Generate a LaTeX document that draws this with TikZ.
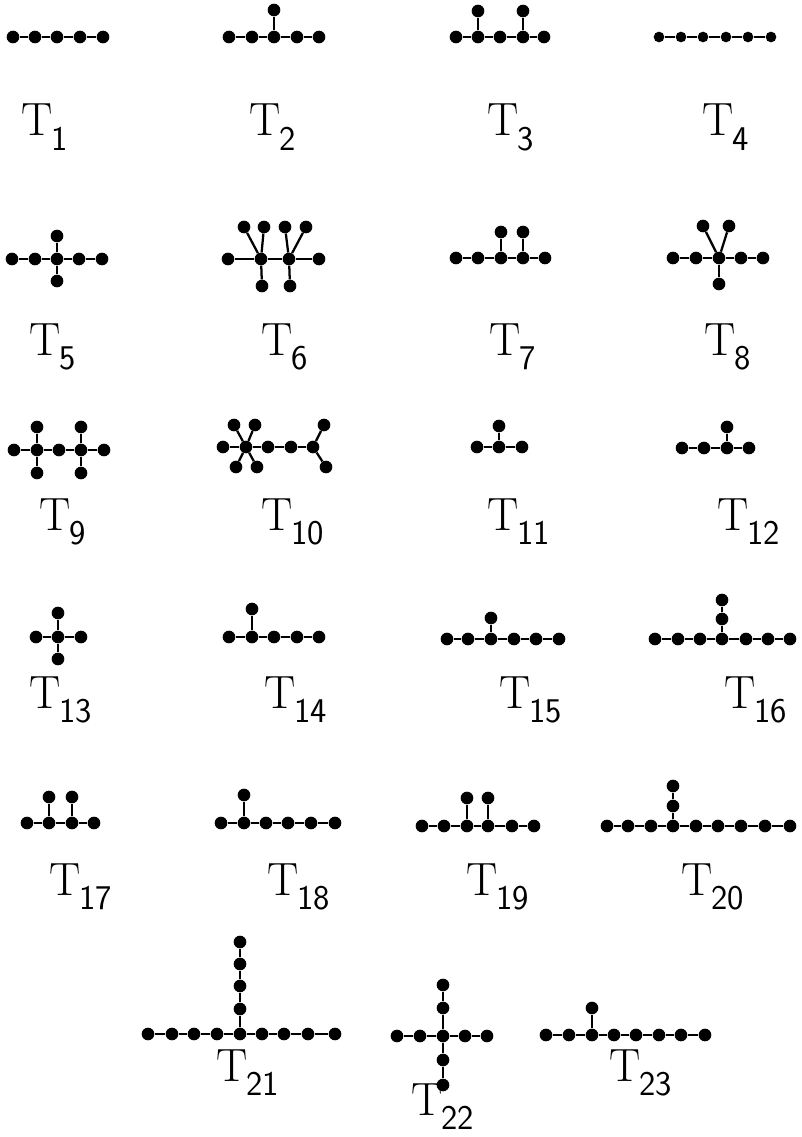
\documentclass[tikz,border=0pt]{standalone}
\usepackage{amsmath}
\usetikzlibrary{positioning}

% a straight spine of dots, joined one after another
\newcommand{\spine}[4][dot]{%
  \foreach \x [count=\k, remember=\k as \p (initially 0)] in {#4} {%
    \node[#1] (#2-\k) at (\x,#3) {};
    \ifnum\k>1 \draw[edge] (#2-\p) -- (#2-\k); \fi
  }}
% one extra dot hung on a parent dot
\newcommand{\leaf}[3]{\node[dot] (#2) at (#3) {}; \draw[edge] (#1) -- (#2);}
\newcommand{\tlab}[1]{T\kern-1pt\lower11pt\hbox{\fontsize{26}{28}\selectfont\sffamily #1}}

\begin{document}
\begin{tikzpicture}[x=0.75pt, y=-0.75pt,
    dot/.style={circle, fill=black, inner sep=0pt, minimum size=9.5pt},
    smalldot/.style={dot, minimum size=8pt},
    edge/.style={line width=1.7pt},
    lab/.style={anchor=base west, inner sep=0pt, font=\fontsize{35}{38}\selectfont}
]
    \useasboundingbox (0,0) rectangle (801,1137);

    % row 1
    \spine{t1}{37}{13,35,57,80,103}
    \spine{t2}{37}{229,252,274,297,319}
    \leaf{t2-3}{t2-a}{274,10}
    \spine{t3}{37}{456,478,500,523,544}
    \leaf{t3-2}{t3-a}{478,11}
    \leaf{t3-4}{t3-b}{523,11}
    \spine[smalldot]{t4}{37}{659,681,703,726,748,771}

    % row 2
    \spine{t5}{259}{12,35,57,79,102}
    \leaf{t5-3}{t5-a}{57,236}
    \leaf{t5-3}{t5-b}{57,281}
    \spine{t6}{259}{228,261,289,319}
    \leaf{t6-2}{t6-a}{244,227}
    \leaf{t6-2}{t6-b}{264,227}
    \leaf{t6-3}{t6-c}{285,227}
    \leaf{t6-3}{t6-d}{306,227}
    \leaf{t6-2}{t6-e}{262,286}
    \leaf{t6-3}{t6-f}{290,286}
    \spine{t7}{258}{456,478,501,523,545}
    \leaf{t7-3}{t7-a}{501,232}
    \leaf{t7-4}{t7-b}{523,232}
    \spine{t8}{258}{673,696,719,741,763}
    \leaf{t8-3}{t8-a}{703,226}
    \leaf{t8-3}{t8-b}{729,226}
    \leaf{t8-3}{t8-c}{719,284}

    % row 3
    \spine{t9}{450}{14,37,59,81,104}
    \leaf{t9-2}{t9-a}{37,427}
    \leaf{t9-2}{t9-b}{37,473}
    \leaf{t9-4}{t9-c}{81,427}
    \leaf{t9-4}{t9-d}{81,473}
    \spine{t10}{447}{223,246,268,291,313}
    \leaf{t10-2}{t10-a}{234,425}
    \leaf{t10-2}{t10-b}{255,425}
    \leaf{t10-2}{t10-c}{236,467}
    \leaf{t10-2}{t10-d}{257,467}
    \leaf{t10-5}{t10-e}{324,425}
    \leaf{t10-5}{t10-f}{326,467}
    \spine{t11}{447}{477,499,522}
    \leaf{t11-2}{t11-a}{499,426}
    \spine{t12}{448}{682,704,727,749}
    \leaf{t12-3}{t12-a}{727,427}

    % row 4
    \spine{t13}{637}{36,58,81}
    \leaf{t13-2}{t13-a}{58,613}
    \leaf{t13-2}{t13-b}{58,659}
    \spine{t14}{637}{229,252,274,297,319}
    \leaf{t14-2}{t14-a}{252,609}
    \spine{t15}{639}{447,468,491,514,536,559}
    \leaf{t15-3}{t15-a}{491,618}
    \spine{t16}{639}{655,678,700,722,746,768,790}
    \leaf{t16-4}{t16-a}{722,619}
    \leaf{t16-a}{t16-b}{722,600}

    % row 5
    \spine{t17}{823}{27,49,72,94}
    \leaf{t17-2}{t17-a}{49,797}
    \leaf{t17-3}{t17-b}{72,797}
    \spine{t18}{823}{221,244,266,288,311,335}
    \leaf{t18-2}{t18-a}{244,795}
    \spine{t19}{826}{422,444,467,488,512,534}
    \leaf{t19-3}{t19-a}{467,798}
    \leaf{t19-4}{t19-b}{488,798}
    \spine{t20}{826}{607,628,651,673,696,718,741,765,790}
    \leaf{t20-4}{t20-a}{673,806}
    \leaf{t20-a}{t20-b}{673,786}

    % row 6
    \spine{t21}{1034}{148,172,194,217,240,262,284,308,335}
    \leaf{t21-5}{t21-a}{240,1009}
    \leaf{t21-a}{t21-b}{240,986}
    \leaf{t21-b}{t21-c}{240,964}
    \leaf{t21-c}{t21-d}{240,942}
    \spine{t22}{1036}{397,420,443,465,487}
    \leaf{t22-3}{t22-a}{443,1008}
    \leaf{t22-a}{t22-b}{443,985}
    \leaf{t22-3}{t22-c}{443,1060}
    \leaf{t22-c}{t22-d}{443,1085}
    \spine{t23}{1035}{546,569,592,614,636,659,681,705}
    \leaf{t23-3}{t23-a}{592,1008}

    % labels
    \node[lab] (l1) at (21,136) {\tlab{1}};
    \node[lab] (l2) at (249,136) {\tlab{2}};
    \node[lab] (l3) at (487,136) {\tlab{3}};
    \node[lab] (l4) at (702,136) {\tlab{4}};
    \node[lab] (l5) at (29,355) {\tlab{5}};
    \node[lab] (l6) at (261,355) {\tlab{6}};
    \node[lab] (l7) at (489,355) {\tlab{7}};
    \node[lab] (l8) at (704,355) {\tlab{8}};
    \node[lab] (l9) at (39,530) {\tlab{9}};
    \node[lab] (l10) at (261,530) {\tlab{10}};
    \node[lab] (l11) at (487,530) {\tlab{11}};
    \node[lab] (l12) at (717,530) {\tlab{12}};
    \node[lab] (l13) at (29,708) {\tlab{13}};
    \node[lab] (l14) at (264,708) {\tlab{14}};
    \node[lab] (l15) at (499,708) {\tlab{15}};
    \node[lab] (l16) at (724,708) {\tlab{16}};
    \node[lab] (l17) at (49,895) {\tlab{17}};
    \node[lab] (l18) at (267,895) {\tlab{18}};
    \node[lab] (l19) at (466,895) {\tlab{19}};
    \node[lab] (l20) at (681,895) {\tlab{20}};
    \node[lab] (l21) at (216,1081) {\tlab{21}};
    \node[lab] (l22) at (411,1115) {\tlab{22}};
    \node[lab] (l23) at (609,1081) {\tlab{23}};
\end{tikzpicture}
\end{document}
